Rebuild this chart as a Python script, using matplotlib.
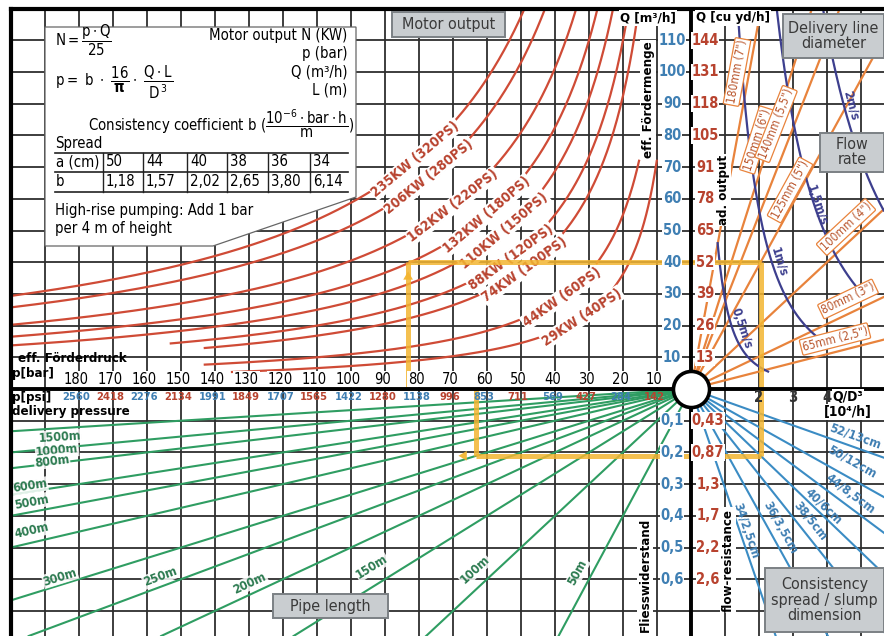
import numpy as np
import matplotlib
matplotlib.use("Agg")
import matplotlib.pyplot as plt
from matplotlib import font_manager as fm
from matplotlib.patches import Polygon, FancyBboxPatch

# condensed sans if available, else Arial-metric sans
_cond_path = fm.findfont(fm.FontProperties(family='DejaVu Sans', stretch='condensed'),
                         fallback_to_default=True)
if 'Condensed' in _cond_path:
    plt.rcParams['font.family'] = ['DejaVu Sans']
    plt.rcParams['font.stretch'] = 'condensed'
    plt.rcParams['mathtext.fontset'] = 'custom'
    plt.rcParams['mathtext.rm'] = 'DejaVu Sans:stretch=condensed'
    plt.rcParams['mathtext.it'] = 'DejaVu Sans:stretch=condensed'
    plt.rcParams['mathtext.bf'] = 'DejaVu Sans:stretch=condensed:bold'
    SCALE = 1.0
else:
    plt.rcParams['font.family'] = ['Liberation Sans', 'DejaVu Sans']
    plt.rcParams['mathtext.fontset'] = 'custom'
    plt.rcParams['mathtext.rm'] = 'Liberation Sans'
    plt.rcParams['mathtext.it'] = 'Liberation Sans'
    plt.rcParams['mathtext.bf'] = 'Liberation Sans:bold'
    SCALE = 0.92

# ---------------- scales ----------------
pressure_bar = [180, 170, 160, 150, 140, 130, 120, 110, 100, 90, 80, 70, 60, 50, 40, 30, 20, 10]
pressure_psi = [2560, 2418, 2276, 2134, 1991, 1849, 1707, 1565, 1422, 1280, 1138, 996,
                853, 711, 569, 427, 284, 142]
output_m3h = [110, 100, 90, 80, 70, 60, 50, 40, 30, 20, 10]
output_cuyd = [144, 131, 118, 105, 91, 78, 65, 52, 39, 26, 13]
resistance = [0.1, 0.2, 0.3, 0.4, 0.5, 0.6]
resistance_alt = ["0,43", "0,87", "1,3", "1,7", "2,2", "2,6"]
qd3_ticks = [2, 3, 4]

# ---------------- curve families ----------------
motor_kw = [235, 206, 162, 132, 110, 88, 74, 44, 29]
motor_ps = [320, 280, 220, 180, 150, 120, 100, 60, 40]
motor_p_max = [200, 200, 200, 200, 200, 153, 143, 143, 135]
motor_q_max = [120, 120, 120, 120, 120, 120, 120, 72, 72]
motor_label_p = [81, 77, 70, 60, 55, 53, 49, 38, 32]

pipe_mm = [180, 150, 140, 125, 100, 80, 65]
pipe_inch = ['7"', '6"', '5,5"', '5"', '4"', '3"', '2,5"']

flow_ms = [0.5, 1.0, 1.5, 2.0]
flow_q_lo = [5.5, 15, 31, 50]
flow_q_hi = [46, 120, 120, 120]
flow_txt = ["0,5m/s", "1m/s", "1,5m/s", "2m/s"]

pipe_length_m = [1500, 1000, 800, 600, 500, 400, 300, 250, 200, 150, 100, 50]

spread_cm = [52, 50, 44, 40, 38, 36, 34]
slump_cm = ["13", "12", "8,5", "6", "5", "3,5", "2,5"]
spread_b = [0.75, 1.18, 1.57, 2.02, 2.65, 3.80, 6.14]

table_a = [50, 44, 40, 38, 36, 34]
table_b = [1.18, 1.57, 2.02, 2.65, 3.80, 6.14]

# worked example
ex_q = 40
ex_d = 125
ex_b = 2.02
ex_len = 300
ex_height_bar = 20

# ---------------- colours ----------------
GRID = "#2e2e2e"
RED = "#cf4b36"
RED_TXT = "#b8432f"
ORANGE = "#e8833c"
ORANGE_TXT = "#b9552c"
PURPLE = "#3d3f8e"
GREEN = "#2f9d62"
GREEN_TXT = "#2c7a50"
BLUE = "#3b8cc4"
BLUE_TXT = "#3f7fb3"
YELLOW = "#f3b531"
BOXFILL = "#c9cdd0"
BOXEDGE = "#7b8084"

W, H = 884, 636
X0, Y0, SX, SY = 691.0, 389.0, 34.0, 31.7

fig = plt.figure(figsize=(W / 100, H / 100), dpi=100)
ax = fig.add_axes([0, 0, 1, 1])
ax.set_xlim(-X0 / SX, (W - X0) / SX)
ax.set_ylim(-(H - Y0) / SY, Y0 / SY)
ax.axis('off')


def fs(v):
    return v * SCALE


def px(u, v):
    """pixel position -> data position (for placing annotations)"""
    return (u - X0) / SX, (Y0 - v) / SY


def xp(p):
    return -np.asarray(p, float) / 10.0


def yq(q):
    return np.asarray(q, float) / 10.0


def yr(r):
    return -np.asarray(r, float) / 0.1


def xd(d):
    return np.asarray(d, float)


def angle_of(x0, y0, x1, y1):
    a = ax.transData.transform([(x0, y0), (x1, y1)])
    d = a[1] - a[0]
    ang = np.degrees(np.arctan2(d[1], d[0]))
    if ang > 90:
        ang -= 180
    if ang < -90:
        ang += 180
    return ang


LEFT, TOP = xp(200), yq(120)
RIGHT = ax.get_xlim()[1]
BOTTOM = ax.get_ylim()[0]

# ---------------- grid ----------------
for k in range(-19, 6):
    ax.plot([k, k], [BOTTOM, TOP], color=GRID, lw=1.3, zorder=1)
for k in range(-7, 12):
    ax.plot([LEFT, RIGHT], [k, k], color=GRID, lw=1.3, zorder=1)
ax.plot([LEFT, LEFT], [BOTTOM, TOP], color="black", lw=3, zorder=6)
ax.plot([LEFT, RIGHT], [TOP, TOP], color="black", lw=3, zorder=6)
ax.plot([LEFT, RIGHT], [0, 0], color="black", lw=2.8, zorder=6)
ax.plot([0, 0], [BOTTOM, TOP], color="black", lw=2.8, zorder=6)

P_LEFT = 200.0
Q_TOP = 120.0

# ---------------- motor output hyperbolas: N = p*Q/25 ----------------
for N, ps, pmax, qmax, plab in zip(motor_kw, motor_ps, motor_p_max, motor_q_max, motor_label_p):
    qcap = min(qmax, Q_TOP)
    pmin = 25.0 * N / qcap
    p = np.linspace(pmin, min(pmax, P_LEFT), 400)
    ax.plot(xp(p), yq(25.0 * N / p), color=RED, lw=1.6, zorder=3)
    x0, y0 = xp(plab), yq(25.0 * N / plab)
    ang = angle_of(xp(plab + 1), yq(25.0 * N / (plab + 1)), xp(plab - 1), yq(25.0 * N / (plab - 1)))
    ax.text(x0, y0, f"{N}KW ({ps}PS)", rotation=ang, rotation_mode='anchor',
            ha='center', va='center', fontsize=fs(10), fontweight='bold', color=RED_TXT,
            bbox=dict(boxstyle='square,pad=0.08', fc='white', ec='none'), zorder=4)

# ---------------- delivery line diameters: Q/D^3 ----------------
X_RIGHT = RIGHT
for mm in pipe_mm:
    k = (mm / 1000.0) ** 3 * 1e4
    q_end = min(Q_TOP, X_RIGHT * k)
    q = np.array([0.0, q_end])
    ax.plot(xd(q / k), yq(q), color=ORANGE, lw=1.6, zorder=3)

pipe_label_px = [(737, 72), (757, 140), (776, 124), (790, 190), (846, 227), (848, 299), (835, 339)]
for mm, inch, (u, v) in zip(pipe_mm, pipe_inch, pipe_label_px):
    k = (mm / 1000.0) ** 3 * 1e4
    ang = angle_of(0, 0, xd(50 / k), yq(50))
    x0, y0 = px(u, v)
    ax.text(x0, y0, f"{mm}mm ({inch})", rotation=ang, rotation_mode='anchor',
            ha='center', va='center', fontsize=fs(8.5), color=ORANGE_TXT,
            bbox=dict(boxstyle='round,pad=0.12', fc='white', ec=ORANGE, lw=0.9), zorder=4)

# ---------------- flow rate curves ----------------
flow_label_px = [(742, 328), (779, 262), (817, 205), (851, 105)]
for v, qlo, qhi, txt, (u, w) in zip(flow_ms, flow_q_lo, flow_q_hi, flow_txt, flow_label_px):
    c = (900 * np.pi * v) ** 1.5 / 1e4
    q = np.linspace(qlo, min(qhi, Q_TOP), 300)
    d = c / np.sqrt(q)
    keep = d <= X_RIGHT
    ax.plot(xd(d[keep]), yq(q[keep]), color=PURPLE, lw=1.6, zorder=3.5)
    x0, y0 = px(u, w)
    qm = (Y0 - w) / SY * 10
    ang = angle_of(xd(c / np.sqrt(qm + 2)), yq(qm + 2), xd(c / np.sqrt(qm - 2)), yq(qm - 2))
    ax.text(x0, y0, txt, rotation=ang, rotation_mode='anchor', ha='center', va='center',
            fontsize=fs(9), fontweight='bold', color=PURPLE, zorder=4)

# ---------------- pipe length lines: p = r * L ----------------
green_label_px = [(60, 437), (57, 451), (52, 461), (30, 486), (32, 502), (32, 531),
                  (60, 577), (160, 577), (250, 583), (372, 567), (475, 570), (578, 572)]
for L, (u, v) in zip(pipe_length_m, green_label_px):
    r_end = min(-BOTTOM * 0.1, P_LEFT / L)
    r = np.array([0.0, r_end])
    ax.plot(xp(r * L), yr(r), color=GREEN, lw=1.5, zorder=3)
    x0, y0 = px(u, v)
    ang = angle_of(0, 0, xp(0.3 * L), yr(0.3))
    ax.text(x0, y0, f"{L}m", rotation=ang, rotation_mode='anchor', ha='center', va='center',
            fontsize=fs(9), fontweight='bold', color=GREEN_TXT,
            bbox=dict(boxstyle='square,pad=0.05', fc='white', ec='none', alpha=0.85), zorder=4)

# ---------------- consistency lines: r = b * 16/pi * Q/D^3 ----------------
blue_label_px = [(855, 436), (852, 462), (850, 494), (824, 506), (810, 521), (780, 528), (746, 531)]
for b, a, s, (u, v) in zip(spread_b, spread_cm, slump_cm, blue_label_px):
    slope = b * 16 / np.pi * 1e-2
    d_end = min(X_RIGHT, -BOTTOM * 0.1 / slope)
    d = np.array([0.0, d_end])
    ax.plot(xd(d), yr(d * slope), color=BLUE, lw=1.5, zorder=3)
    x0, y0 = px(u, v)
    ang = angle_of(0, 0, xd(1), yr(slope))
    ax.text(x0, y0, f"{a}/{s}cm", rotation=ang, rotation_mode='anchor', ha='center', va='center',
            fontsize=fs(9), fontweight='bold', color=BLUE_TXT, zorder=4)

# ---------------- worked example path ----------------
ex_k = (ex_d / 1000.0) ** 3 * 1e4
ex_qd = ex_q / ex_k
ex_r = ex_b * 16 / np.pi * 1e-2 * ex_qd
ex_p = ex_r * ex_len
ex_p2 = ex_p + ex_height_bar
ykw = dict(color=YELLOW, lw=3.6, alpha=0.85, zorder=5, solid_capstyle='butt')
ax.plot([xp(ex_p2), xd(ex_qd)], [yq(ex_q), yq(ex_q)], **ykw)
ax.plot([xd(ex_qd), xd(ex_qd)], [yq(ex_q), yr(ex_r)], **ykw)
ax.plot([xd(ex_qd), xp(ex_p)], [yr(ex_r), yr(ex_r)], **ykw)
ax.plot([xp(ex_p), xp(ex_p)], [yr(ex_r), 0], **ykw)
ax.plot([xp(ex_p2), xp(ex_p2)], [0, yq(ex_q)], **ykw)
ax.annotate("", xy=(xp(ex_p2), yq(ex_q - 2)), xytext=(xp(ex_p2), yq(ex_q - 9)),
            arrowprops=dict(arrowstyle='-|>,head_length=0.6,head_width=0.35', color=YELLOW,
                            lw=0, alpha=0.95), zorder=5)
ax.annotate("", xy=(xp(ex_p + 6), yr(ex_r)), xytext=(xp(ex_p - 4), yr(ex_r)),
            arrowprops=dict(arrowstyle='-|>,head_length=0.6,head_width=0.35', color=YELLOW,
                            lw=0, alpha=0.95), zorder=5)

# ---------------- origin ----------------
ax.plot([0], [0], 'o', ms=26, mfc='white', mec='black', mew=2.6, zorder=8)

# ---------------- axis labels ----------------
WB = dict(boxstyle='square,pad=0.05', fc='white', ec='none')
ty = px(0, 379)[1]
for p in pressure_bar:
    ax.text(xp(p) - 0.08, ty, str(p), ha='center', va='center', fontsize=fs(10.5),
            color='black', zorder=7, bbox=WB)
ty = px(0, 397)[1]
for i, (p, s) in enumerate(zip(pressure_bar, pressure_psi)):
    ax.text(xp(p) - 0.08, ty, str(s), ha='center', va='center', fontsize=fs(8), fontweight='bold',
            color=BLUE_TXT if i % 2 == 0 else RED_TXT, zorder=7)

xb = px(672, 0)[0]
xr_ = px(705, 0)[0]
for q, cy in zip(output_m3h, output_cuyd):
    ax.text(xb, yq(q), str(q), ha='center', va='center', fontsize=fs(10.5), fontweight='bold',
            color=BLUE_TXT, zorder=7, bbox=WB)
    ax.text(xr_, yq(q), str(cy), ha='center', va='center', fontsize=fs(10.5), fontweight='bold',
            color=RED_TXT, zorder=7, bbox=WB)

xr2 = px(708, 0)[0]
for r, alt in zip(resistance, resistance_alt):
    ax.text(xb, yr(r), f"{r:.1f}".replace('.', ','), ha='center', va='center', fontsize=fs(10.5),
            fontweight='bold', color=BLUE_TXT, zorder=7, bbox=WB)
    ax.text(xr2, yr(r), alt, ha='center', va='center', fontsize=fs(10.5), fontweight='bold',
            color=RED_TXT, zorder=7, bbox=WB)

ty = px(0, 398)[1]
for d in qd3_ticks:
    ax.text(xd(d), ty, str(d), ha='center', va='center', fontsize=fs(10.5), fontweight='bold',
            color='#333333', zorder=7)


def T(u, v, s, **kw):
    x, y = px(u, v)
    kw.setdefault('zorder', 9)
    if 'fontsize' in kw:
        kw['fontsize'] = fs(kw['fontsize'])
    return ax.text(x, y, s, **kw)


T(18, 359, "eff. Förderdruck", fontsize=9.5, fontweight='bold', ha='left', va='center')
T(12, 374, "p[bar]", fontsize=9.5, fontweight='bold', ha='left', va='center')
T(12, 398, "p[psi]", fontsize=9.5, fontweight='bold', ha='left', va='center')
T(12, 411, "delivery pressure", fontsize=9.5, fontweight='bold', ha='left', va='center')
T(648, 18, "Q [m³/h]", fontsize=9.5, fontweight='bold', ha='center', va='center',
  bbox=dict(boxstyle='square,pad=0.1', fc='white', ec='none'))
T(733, 18, "Q [cu yd/h]", fontsize=9.5, fontweight='bold', ha='center', va='center',
  bbox=dict(boxstyle='square,pad=0.1', fc='white', ec='none'))
T(648, 100, "eff. Fördermenge", fontsize=9.5, fontweight='bold', rotation=90, ha='center', va='center',
  bbox=dict(boxstyle='square,pad=0.1', fc='white', ec='none'))
T(723, 190, "ad. output", fontsize=9.5, fontweight='bold', rotation=90, ha='center', va='center',
  bbox=dict(boxstyle='square,pad=0.1', fc='white', ec='none'))
T(645, 575, "Fliesswiderstand", fontsize=9.5, fontweight='bold', rotation=90, ha='center', va='center',
  bbox=dict(boxstyle='square,pad=0.1', fc='white', ec='none'))
T(728, 560, "flow-resistance", fontsize=9.5, fontweight='bold', rotation=90, ha='center', va='center',
  bbox=dict(boxstyle='square,pad=0.1', fc='white', ec='none'))
T(848, 397, "Q/D³", fontsize=10, fontweight='bold', ha='center', va='center',
  bbox=dict(boxstyle='square,pad=0.05', fc='white', ec='none'))
T(848, 412, "[10⁴/h]", fontsize=10, fontweight='bold', ha='center', va='center',
  bbox=dict(boxstyle='square,pad=0.05', fc='white', ec='none'))


# ---------------- grey caption boxes ----------------
def caption(u0, v0, u1, v1, s):
    x0, y0 = px(u0, v1)
    x1, y1 = px(u1, v0)
    ax.add_patch(FancyBboxPatch((x0, y0), x1 - x0, y1 - y0, boxstyle='square,pad=0',
                                fc=BOXFILL, ec=BOXEDGE, lw=1.4, zorder=9))
    ax.text((x0 + x1) / 2, (y0 + y1) / 2, s, ha='center', va='center', fontsize=fs(11.5),
            color='#3a3a3a', linespacing=1.0, zorder=10)


caption(392, 12, 505, 37, "Motor output")
caption(783, 14, 884, 58, "Delivery line\ndiameter")
caption(820, 133, 884, 172, "Flow\nrate")
caption(273, 594, 388, 618, "Pipe length")
caption(765, 568, 884, 632, "Consistency\nspread / slump\ndimension")

# ---------------- formula panel ----------------
poly = [px(45, 27), px(356, 27), px(356, 197), px(213, 246), px(45, 246)]
ax.add_patch(Polygon(poly, closed=True, fc='white', ec='#666666', lw=0.9, zorder=8))

BF = 10.7
T(55, 40, r"$N = \dfrac{p\cdot Q}{25}$", fontsize=BF, ha='left', va='center')
T(55, 82, r"$p =\ b\ \cdot\ \dfrac{16}{\mathbf{\pi}}\cdot\ \dfrac{Q\cdot L}{D^3}$", fontsize=BF,
  ha='left', va='center')
T(347, 36, "Motor output N (KW)", fontsize=BF, ha='right', va='center')
T(347, 54, "p (bar)", fontsize=BF, ha='right', va='center')
T(347, 72, "Q (m³/h)", fontsize=BF, ha='right', va='center')
T(347, 90, "L (m)", fontsize=BF, ha='right', va='center')
T(88, 124, r"Consistency coefficient b ($\dfrac{10^{-6}\cdot bar\cdot h}{m}$)", fontsize=BF,
  ha='left', va='center')
T(55, 144, "Spread", fontsize=BF, ha='left', va='center')

# table
tx = [55, 103, 143, 187, 227, 268, 310, 348]
trows = [153, 172, 192]
for v in trows:
    a, b = px(tx[0], v), px(tx[-1], v)
    ax.plot([a[0], b[0]], [a[1], b[1]], color='#222222', lw=1.2, zorder=9)
for u in tx[1:-1]:
    a, b = px(u, trows[0]), px(u, trows[-1])
    ax.plot([a[0], b[0]], [a[1], b[1]], color='#222222', lw=1.0, zorder=9)
T(56, 162, "a (cm)", fontsize=BF, ha='left', va='center')
T(56, 182, "b", fontsize=BF, ha='left', va='center')
for i, (a_, b_) in enumerate(zip(table_a, table_b)):
    T(tx[i + 1] + 3, 162, str(a_), fontsize=BF, ha='left', va='center')
    T(tx[i + 1] + 3, 182, f"{b_:.2f}".replace('.', ','), fontsize=BF, ha='left', va='center')

T(55, 211, "High-rise pumping: Add 1 bar", fontsize=BF, ha='left', va='center')
T(55, 229, "per 4 m of height", fontsize=BF, ha='left', va='center')

fig.savefig("out.png", dpi=100)
